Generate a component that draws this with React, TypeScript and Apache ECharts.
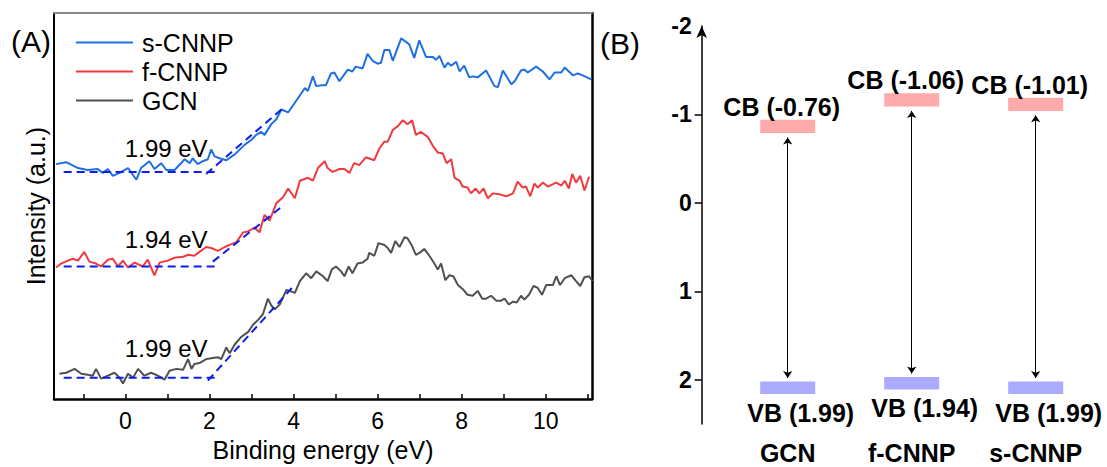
import React, { useEffect, useRef } from 'react';
import * as echarts from 'echarts';

// ---------- Panel (A): UPS-like valence band spectra ----------
const sCnnp = [[-1.65,241],[-1.41,243],[-1.13,237],[-0.90,235],[-0.66,236],[-0.54,232],[-0.42,236],[-0.30,229],[-0.14,232],[0.06,237],[0.26,225],[0.37,237],[0.57,244],[0.69,236],[0.85,242],[0.97,235],[1.17,235],[1.41,246],[1.53,242],[1.60,247],[1.72,241],[1.84,244],[1.96,246],[2.04,256],[2.12,249],[2.24,247],[2.40,245],[2.60,251],[2.84,261],[3.00,266],[3.11,271],[3.23,274],[3.31,271],[3.47,282],[3.59,287],[3.71,297],[3.87,294],[4.03,304],[4.19,314],[4.27,319],[4.34,316],[4.46,331],[4.54,321],[4.66,322],[4.77,322],[4.89,334],[4.97,335],[5.09,326],[5.29,338],[5.40,336],[5.48,341],[5.64,339],[5.76,354],[5.88,347],[6.00,344],[6.08,345],[6.16,358],[6.28,358],[6.36,347],[6.56,370],[6.75,364],[6.87,350],[6.99,368],[7.15,351],[7.31,351],[7.39,348],[7.47,352],[7.59,340],[7.67,345],[7.75,342],[7.87,346],[7.95,336],[8.06,342],[8.18,330],[8.26,331],[8.38,330],[8.58,337],[8.78,321],[8.86,320],[8.98,337],[9.18,323],[9.26,326],[9.41,337],[9.49,338],[9.57,335],[9.77,341],[9.93,336],[10.09,328],[10.21,335],[10.37,335],[10.45,340],[10.65,332],[10.76,334],[10.88,332],[11.08,328]];

const fCnnp = [[-1.65,135],[-1.53,139],[-1.37,142],[-1.25,144],[-1.13,142],[-0.98,151],[-0.86,141],[-0.70,139],[-0.58,136],[-0.42,143],[-0.30,144],[-0.18,136],[-0.06,142],[0.06,135],[0.22,140],[0.41,136],[0.53,143],[0.69,127],[0.81,140],[1.01,142],[1.17,145],[1.37,146],[1.49,148],[1.64,147],[1.76,151],[1.92,156],[2.04,155],[2.20,152],[2.36,156],[2.52,159],[2.64,161],[2.80,171],[2.92,172],[3.07,176],[3.19,171],[3.31,189],[3.43,183],[3.59,201],[3.75,207],[3.87,216],[4.03,206],[4.15,224],[4.34,227],[4.46,224],[4.58,237],[4.74,244],[4.81,237],[4.93,233],[5.09,236],[5.21,236],[5.33,232],[5.44,242],[5.56,240],[5.72,248],[5.92,245],[6.04,257],[6.16,264],[6.24,264],[6.36,276],[6.48,280],[6.60,286],[6.71,282],[6.82,286],[6.91,271],[7.03,274],[7.19,269],[7.31,260],[7.43,253],[7.55,252],[7.64,242],[7.75,246],[7.83,227],[7.95,224],[8.02,218],[8.14,217],[8.22,211],[8.33,216],[8.42,211],[8.52,216],[8.62,206],[8.74,211],[8.90,210],[9.06,208],[9.22,211],[9.33,223],[9.45,217],[9.53,218],[9.63,208],[9.73,221],[9.81,217],[9.93,222],[10.05,218],[10.25,222],[10.37,219],[10.45,224],[10.55,216],[10.63,231],[10.72,222],[10.82,229],[10.92,214],[11.03,228]];

const gcn = [[-1.57,26],[-1.41,27],[-1.21,31],[-1.05,26],[-0.90,25],[-0.78,24],[-0.70,31],[-0.58,21],[-0.42,24],[-0.26,27],[-0.14,22],[-0.06,16],[0.06,26],[0.18,22],[0.30,31],[0.45,24],[0.61,27],[0.77,24],[0.93,20],[1.05,29],[1.21,31],[1.37,30],[1.49,41],[1.57,31],[1.64,36],[1.76,37],[1.92,41],[2.04,42],[2.20,43],[2.28,41],[2.40,53],[2.48,47],[2.60,56],[2.76,64],[2.92,69],[3.03,76],[3.15,81],[3.27,87],[3.39,103],[3.47,96],[3.55,92],[3.67,97],[3.83,112],[3.91,111],[4.03,109],[4.15,121],[4.30,129],[4.42,124],[4.54,131],[4.70,126],[4.81,121],[4.91,133],[5.01,136],[5.13,131],[5.21,126],[5.31,136],[5.40,129],[5.52,139],[5.64,140],[5.76,144],[5.80,150],[5.92,147],[6.02,160],[6.16,158],[6.24,155],[6.32,150],[6.42,162],[6.52,156],[6.64,166],[6.71,165],[6.82,157],[6.91,148],[7.03,151],[7.11,154],[7.23,147],[7.35,139],[7.43,133],[7.51,139],[7.61,122],[7.71,127],[7.80,126],[7.91,117],[8.02,113],[8.14,107],[8.26,106],[8.38,111],[8.49,103],[8.58,103],[8.70,106],[8.82,101],[8.94,101],[9.02,103],[9.12,97],[9.22,100],[9.31,99],[9.41,106],[9.49,102],[9.60,107],[9.71,116],[9.81,114],[9.91,107],[10.01,117],[10.17,117],[10.25,126],[10.34,117],[10.45,124],[10.61,127],[10.72,121],[10.82,116],[10.92,125],[11.03,126],[11.11,121]];

// extrapolation guide lines (baseline + leading-edge tangent)
const sCnnpBase = [[-1.47,233],[2.24,233]];
const sCnnpEdge = [[1.92,231],[3.71,297]];
const fCnnpBase = [[-1.47,136],[2.24,136]];
const fCnnpEdge = [[2.08,141],[3.71,197]];
const gcnBase = [[-1.47,22],[2.24,22]];
const gcnEdge = [[1.96,19],[3.96,114]];

const edgeLabels = ['1.99 eV', '1.94 eV', '1.99 eV'];
const edgeLabelAnchors = [[0.97,257],[0.97,164],[0.97,52]];

const energyTicks = [-1,0,1,2,3,4,5,6,7,8,9,10,11];
const energyTickLabels = [0,2,4,6,8,10];

// ---------- Panel (B): band positions ----------
const materials = ['GCN', 'f-CNNP', 's-CNNP'];
const cbLevels = [-0.76, -1.06, -1.01];
const vbLevels = [1.99, 1.94, 1.99];
const potentialTicks = [-1, 0, 1, 2];
const potentialTickLabels = [-2, -1, 0, 1, 2];

const FONT = '"Liberation Sans", Arial, Helvetica, sans-serif';
const BLUE = '#1f6fe0';
const RED = '#f03a3e';
const GRAY = '#505050';
const DASH = '#0a1ef0';

function dashed(data: number[][]) {
  return {
    type: 'line', xAxisIndex: 0, yAxisIndex: 0, data, symbol: 'none', silent: true, z: 5,
    lineStyle: { color: DASH, width: 2, type: [8, 5] },
  };
}

export default function App() {
  const ref = useRef<HTMLDivElement>(null);
  useEffect(() => {
    if (!ref.current) return;
    const chart = echarts.init(ref.current, null, { renderer: 'svg' });
    const bandRect = (color: string, loOff: number, hiOff: number, levels: number[]) => ({
      type: 'custom', xAxisIndex: 2, yAxisIndex: 2, silent: true,
      encode: { x: 0, y: [1, 2] },
      data: materials.map((m, i) => [i, levels[i] + loOff, levels[i] + hiOff]),
      renderItem: (params: any, api: any) => {
        const p1 = api.coord([api.value(0), api.value(1)]);
        const p2 = api.coord([api.value(0), api.value(2)]);
        const w = 55;
        return {
          type: 'rect',
          shape: { x: p1[0] - w / 2, y: Math.min(p1[1], p2[1]), width: w, height: Math.abs(p2[1] - p1[1]) },
          style: { fill: color },
        };
      },
    });
    const labelBase = { show: true, position: 'inside', color: '#000', fontFamily: FONT, textBorderWidth: 0 };
    const hiddenDot = { color: 'rgba(0,0,0,0)', opacity: 1 };
    const option: any = {
      animation: false,
      textStyle: { fontFamily: FONT },
      grid: [
        { left: 54, top: 13, width: 538, height: 396 },
        { left: 725.7, top: 26, width: 372, height: 398 },
      ],
      legend: {
        data: ['s-CNNP', 'f-CNNP', 'GCN'],
        icon: 'rect',
        orient: 'vertical', left: 71, top: 25, itemWidth: 57, itemHeight: 2, itemGap: 4,
        textStyle: { fontSize: 25, color: '#000', padding: [0, 0, 0, 4], fontFamily: FONT },
      },
      xAxis: [
        {
          gridIndex: 0, type: 'value', min: -1.7, max: 11.1, position: 'bottom',
          axisLine: { onZero: false, lineStyle: { color: '#000', width: 2.5 } },
          axisTick: { inside: true, length: 5, customValues: energyTicks, lineStyle: { color: '#000', width: 1.5 } },
          axisLabel: { customValues: energyTickLabels, color: '#000', fontSize: 23, margin: 10 },
          splitLine: { show: false },
          name: 'Binding energy (eV)', nameLocation: 'middle', nameGap: 32,
          nameTextStyle: { fontSize: 25, color: '#000' },
        },
        {
          gridIndex: 0, type: 'value', min: -1.7, max: 11.1, position: 'top',
          axisLine: { onZero: false, lineStyle: { color: '#8a8a8a', width: 2 } },
          axisTick: { show: false }, axisLabel: { show: false }, splitLine: { show: false },
        },
        {
          gridIndex: 1, type: 'category', data: materials, position: 'bottom',
          axisLine: { show: false, onZero: false }, axisTick: { show: false },
          axisLabel: { fontSize: 25, fontWeight: 'bold', color: '#000', margin: 16 },
        },
      ],
      yAxis: [
        {
          gridIndex: 0, type: 'value', min: 0, max: 396, position: 'left',
          axisLine: { show: true, onZero: false, lineStyle: { color: '#000', width: 2 } },
          axisTick: { show: false }, axisLabel: { show: false }, splitLine: { show: false },
          name: 'Intensity (a.u.)', nameLocation: 'middle', nameGap: 6,
          nameTextStyle: { fontSize: 25, color: '#000' },
        },
        {
          gridIndex: 0, type: 'value', min: 0, max: 396, position: 'right',
          axisLine: { show: true, onZero: false, lineStyle: { color: '#000', width: 2.5 } },
          axisTick: { show: false }, axisLabel: { show: false }, splitLine: { show: false },
        },
        {
          gridIndex: 1, type: 'value', min: -2, max: 2.5, inverse: true, position: 'left', offset: 24,
          axisLine: { show: true, onZero: false, symbol: ['none', 'arrow'], symbolSize: [8, 12], lineStyle: { color: '#000', width: 1.5 } },
          axisTick: { show: true, length: 7, customValues: potentialTicks, lineStyle: { color: '#000', width: 1.5 } },
          axisLabel: { customValues: potentialTickLabels, fontSize: 23, fontWeight: 'bold', color: '#000', margin: 10 },
          splitLine: { show: false },
        },
      ],
      graphic: [
        { type: 'text', left: 11, top: 26, style: { text: '(A)', fontSize: 30, fill: '#000', fontFamily: FONT } },
        { type: 'text', left: 600, top: 28, style: { text: '(B)', fontSize: 30, fill: '#000', fontFamily: FONT } },
      ],
      series: [
        { type: 'line', name: 's-CNNP', xAxisIndex: 0, yAxisIndex: 0, data: sCnnp, symbol: 'none', lineStyle: { color: BLUE, width: 2 }, itemStyle: { color: BLUE } },
        { type: 'line', name: 'f-CNNP', xAxisIndex: 0, yAxisIndex: 0, data: fCnnp, symbol: 'none', lineStyle: { color: RED, width: 2 }, itemStyle: { color: RED } },
        { type: 'line', name: 'GCN', xAxisIndex: 0, yAxisIndex: 0, data: gcn, symbol: 'none', lineStyle: { color: GRAY, width: 2 }, itemStyle: { color: GRAY } },
        dashed(sCnnpBase), dashed(sCnnpEdge), dashed(fCnnpBase), dashed(fCnnpEdge), dashed(gcnBase), dashed(gcnEdge),
        {
          type: 'scatter', xAxisIndex: 0, yAxisIndex: 0, data: edgeLabelAnchors, symbolSize: 1, silent: true,
          itemStyle: hiddenDot,
          label: { ...labelBase, formatter: (p: any) => edgeLabels[p.dataIndex], fontSize: 24 },
        },
        bandRect('#FFAAAA', -0.03, -0.18, cbLevels),
        bandRect('#AAAAFF', 0.03, 0.17, vbLevels),
        {
          type: 'lines', coordinateSystem: 'cartesian2d', xAxisIndex: 2, yAxisIndex: 2, silent: true,
          symbol: ['arrow', 'arrow'], symbolSize: 7,
          lineStyle: { color: '#000', width: 1, opacity: 1 },
          data: materials.map((m, i) => ({ coords: [[m, cbLevels[i] + 0.02], [m, vbLevels[i] - 0.01]] })),
        },
        {
          type: 'scatter', xAxisIndex: 2, yAxisIndex: 2, data: materials.map((m, i) => [m, cbLevels[i]]), symbolSize: 1, silent: true,
          itemStyle: hiddenDot,
          label: { ...labelBase, offset: [-6, -29], formatter: (p: any) => `CB (${cbLevels[p.dataIndex].toFixed(2)})`, fontSize: 25, fontWeight: 'bold' },
        },
        {
          type: 'scatter', xAxisIndex: 2, yAxisIndex: 2, data: materials.map((m, i) => [m, vbLevels[i]]), symbolSize: 1, silent: true,
          itemStyle: hiddenDot,
          label: { ...labelBase, offset: [13, 34], formatter: (p: any) => `VB (${vbLevels[p.dataIndex].toFixed(2)})`, fontSize: 25, fontWeight: 'bold' },
        },
      ],
    };
    chart.setOption(option);
    return () => chart.dispose();
  }, []);
  return <div ref={ref} style={{ position: 'fixed', left: 0, top: 0, width: 1107, height: 467, background: '#fff' }} />;
}
